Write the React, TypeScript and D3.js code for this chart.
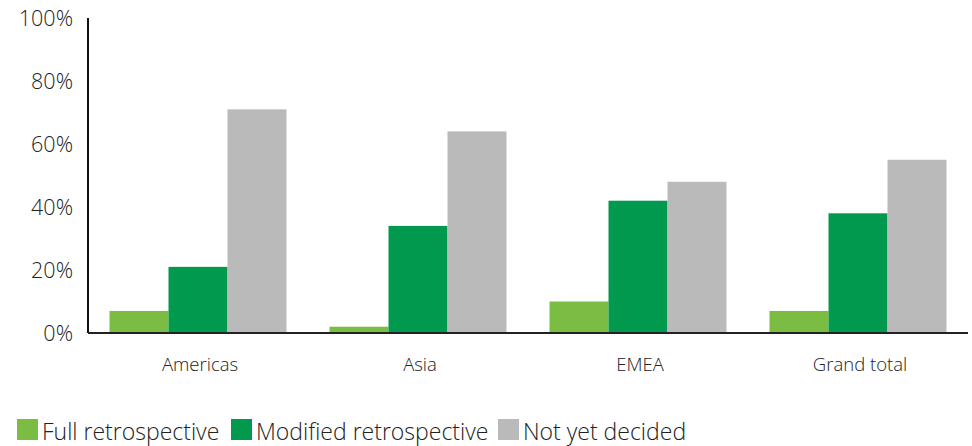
import React, { useEffect, useRef } from "react";
import * as d3 from "d3";

const categories = ["Americas", "Asia", "EMEA", "Grand total"];
const seriesNames = ["Full retrospective", "Modified retrospective", "Not yet decided"];
const fullRetro = [7, 2, 10, 7];
const modifiedRetro = [21, 34, 42, 38];
const notDecided = [71, 64, 48, 55];
const colors = ["#7abd42", "#00994d", "#bbbabb"];
const yTicks = [0, 20, 40, 60, 80, 100];

const W = 972, H = 446;
const M = { left: 88, right: 4, top: 18, bottom: 113 };
const FONT = "'Open Sans', 'Noto Sans', sans-serif";

export default function App() {
  const ref = useRef<SVGSVGElement>(null);
  useEffect(() => {
    const svg = d3.select(ref.current);
    svg.selectAll("*").remove();
    const series = [fullRetro, modifiedRetro, notDecided];
    const x = d3.scaleBand().domain(categories).range([M.left, W - M.right]).paddingInner(0).paddingOuter(0);
    const x1 = d3.scaleBand().domain(seriesNames).range([21.5, x.bandwidth() - 21.5]).padding(0);
    const y = d3.scaleLinear().domain([0, 100]).range([H - M.bottom, M.top]);

    const g = svg.append("g");
    series.forEach((vals, si) => {
      g.selectAll(null)
        .data(vals)
        .enter()
        .append("rect")
        .attr("x", (_d, i) => (x(categories[i]) as number) + (x1(seriesNames[si]) as number))
        .attr("width", x1.bandwidth())
        .attr("y", (d) => y(d))
        .attr("height", (d) => y(0) - y(d))
        .attr("fill", colors[si]);
    });

    // axes
    svg.append("line").attr("x1", M.left).attr("x2", M.left).attr("y1", y(100)).attr("y2", y(0))
      .attr("stroke", "#111").attr("stroke-width", 2);
    svg.append("line").attr("x1", M.left).attr("x2", W - M.right).attr("y1", y(0)).attr("y2", y(0))
      .attr("stroke", "#222").attr("stroke-width", 2);

    svg.selectAll(null).data(yTicks).enter().append("text")
      .attr("x", 73).attr("y", (d) => y(d)).attr("dy", "0.35em")
      .attr("text-anchor", "end").attr("font-family", FONT).attr("font-weight", 300)
      .attr("font-size", 21.5).attr("fill", "#222")
      .text((d) => `${d}%`);

    svg.selectAll(null).data(categories).enter().append("text")
      .attr("x", (d) => (x(d) as number) + x.bandwidth() / 2 + 2).attr("y", 371)
      .attr("text-anchor", "middle").attr("font-family", FONT).attr("font-weight", 300)
      .attr("font-size", 18.5).attr("fill", "#222")
      .text((d) => d);

    // legend
    const legendX = [17, 231, 498];
    seriesNames.forEach((name, i) => {
      svg.append("rect").attr("x", legendX[i]).attr("y", 419).attr("width", 21).attr("height", 21)
        .attr("fill", colors[i]);
      svg.append("text").attr("x", legendX[i] + 25).attr("y", 440)
        .attr("font-family", FONT).attr("font-weight", 300).attr("font-size", 23).attr("fill", "#222")
        .text(name);
    });
  }, []);
  return (
    <svg ref={ref} width={W} height={H} style={{ position: "absolute", left: 0, top: 0 }} />
  );
}
